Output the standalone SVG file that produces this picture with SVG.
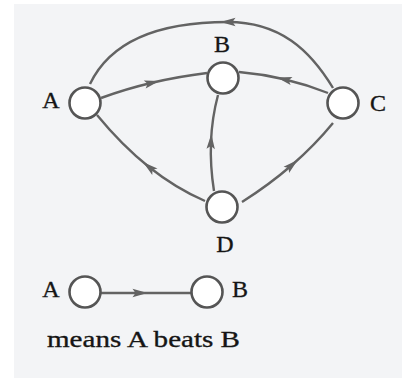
<svg xmlns="http://www.w3.org/2000/svg" width="402" height="378" viewBox="0 0 402 378">
  <style>
    .edge { fill: none; stroke: #636363; stroke-width: 2.4; }
    .node { fill: #ffffff; stroke: #555555; stroke-width: 2.6; }
    .lbl { font-family: "Liberation Serif", "Times New Roman", serif; font-size: 24px; fill: #151515; stroke: #151515; stroke-width: 0.35; }
  </style>
  <defs>
    <marker id="mid" markerUnits="userSpaceOnUse" markerWidth="18" markerHeight="12" viewBox="-9 -6 18 12" refX="0" refY="0" orient="auto">
      <path d="M -7.5,-4.2 L 7.5,0 L -7.5,4.2 L -4.5,0 z" fill="#636363"/>
    </marker>
  </defs>
  <rect x="0" y="0" width="402" height="378" fill="#ffffff"/>
  <rect x="14" y="4" width="388" height="374" fill="#f3f4f6"/>

  <g id="connectors">
    <path class="edge" marker-mid="url(#mid)" d="M101,98 Q125.5,89 152,82.75 Q178.5,76.5 207,73"/>
    <path class="edge" marker-mid="url(#mid)" d="M328,93 Q306.5,84.5 284.25,79.25 Q262,74 239,72"/>
    <path class="edge" marker-mid="url(#mid)" d="M214,191 Q210,165.5 211,141.5 Q212,117.5 218,95"/>
    <path class="edge" marker-mid="url(#mid)" d="M205,201 Q176,188.5 149,167 Q122,145.5 97,115"/>
    <path class="edge" marker-mid="url(#mid)" d="M242,202 Q269.25,184.75 292,165 Q314.75,145.25 333,123"/>
    <path class="edge" marker-mid="url(#mid)" d="M333,88 C310,50 280,22 228,22 C165,22 112,38 90,84"/>
    <path class="edge" marker-mid="url(#mid)" d="M101,293 L140,293 L191,293"/>
  </g>

  <g id="node-A">
    <circle class="node" cx="85" cy="103" r="15.5"/>
    <text class="lbl" x="51" y="108" text-anchor="middle">A</text>
  </g>
  <g id="node-B">
    <circle class="node" cx="223" cy="78" r="15.5"/>
    <text class="lbl" x="222" y="52" text-anchor="middle">B</text>
  </g>
  <g id="node-C">
    <circle class="node" cx="343" cy="103" r="15.5"/>
    <text class="lbl" x="378" y="111" text-anchor="middle">C</text>
  </g>
  <g id="node-D">
    <circle class="node" cx="222" cy="207" r="15.5"/>
    <text class="lbl" x="225" y="252" text-anchor="middle">D</text>
  </g>

  <g id="legend-A">
    <circle class="node" cx="85" cy="292" r="15.5"/>
    <text class="lbl" x="51" y="297" text-anchor="middle">A</text>
  </g>
  <g id="legend-B">
    <circle class="node" cx="207" cy="292" r="15.5"/>
    <text class="lbl" x="240" y="297" text-anchor="middle">B</text>
  </g>
  <g id="legend-text">
    <text class="lbl" x="47" y="347" textLength="193" lengthAdjust="spacingAndGlyphs">means A beats B</text>
  </g>
</svg>
